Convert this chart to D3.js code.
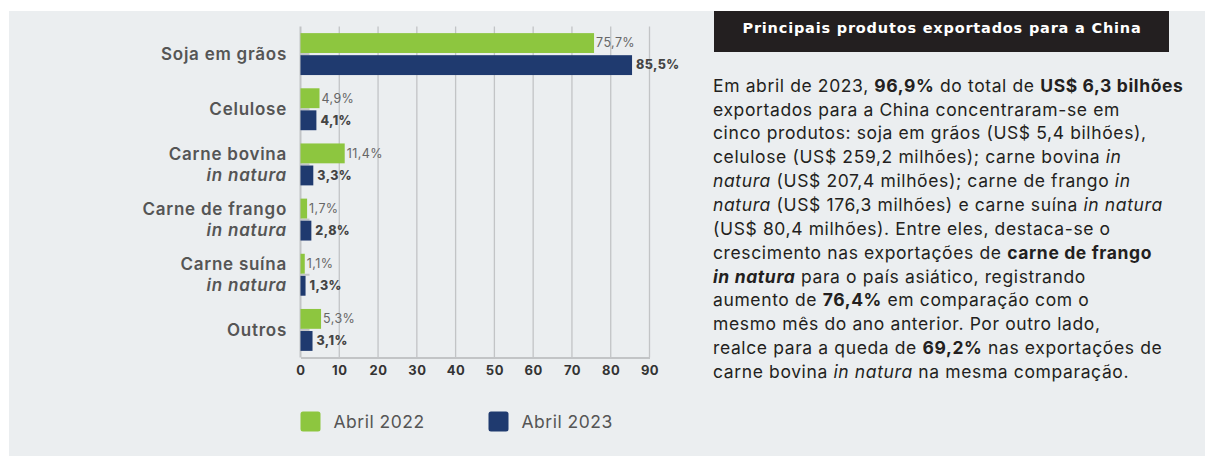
<!DOCTYPE html>
<html>
<head>
<meta charset="utf-8">
<script src="https://cdn.jsdelivr.net/npm/d3@7"></script>
<style>
  body { margin: 0; background: #fff; }
  svg { display: block; font-family: Inter, "Open Sans", sans-serif; }
</style>
</head>
<body>
<div id="grafico"></div>
<script>
// dados
var categorias = ["Soja em grãos", "Celulose", "Carne bovina", "Carne de frango", "Carne suína", "Outros"],
    subtitulos = ["", "", "in natura", "in natura", "in natura", ""],
    abril2022 = [75.7, 4.9, 11.4, 1.7, 1.1, 5.3],
    abril2023 = [85.5, 4.1, 3.3, 2.8, 1.3, 3.1],
    series = ["Abril 2022", "Abril 2023"],
    ticksX = [0, 10, 20, 30, 40, 50, 60, 70, 80, 90];

var titulo = "Principais produtos exportados para a China";

// texto: [texto, estilo] ; b = negrito, i = itálico, bi = ambos
var paragrafo = [
  [["Em abril de 2023, ", ""], ["96,9%", "b"], [" do total de ", ""], ["US$ 6,3 bilhões", "b"]],
  [["exportados para a China concentraram-se em", ""]],
  [["cinco produtos: soja em grãos (US$ 5,4 bilhões),", ""]],
  [["celulose (US$ 259,2 milhões); carne bovina ", ""], ["in", "i"]],
  [["natura", "i"], [" (US$ 207,4 milhões); carne de frango ", ""], ["in", "i"]],
  [["natura", "i"], [" (US$ 176,3 milhões) e carne suína ", ""], ["in natura", "i"]],
  [["(US$ 80,4 milhões). Entre eles, destaca-se o", ""]],
  [["crescimento nas exportações de ", ""], ["carne de frango", "b"]],
  [["in natura", "bi"], [" para o país asiático, registrando", ""]],
  [["aumento de ", ""], ["76,4%", "b"], [" em comparação com o", ""]],
  [["mesmo mês do ano anterior. Por outro lado,", ""]],
  [["realce para a queda de ", ""], ["69,2%", "b"], [" nas exportações de", ""]],
  [["carne bovina ", ""], ["in natura", "i"], [" na mesma comparação.", ""]]
];

var w = 1205, h = 456,
    cores = ["#8dc63f", "#1f3a6f"];

var svg = d3.select("#grafico")
            .append("svg")
            .attr("width", w)
            .attr("height", h);

// fundo cinza
svg.append("rect")
   .attr("x", 9).attr("y", 11)
   .attr("width", w - 9).attr("height", h - 11)
   .attr("fill", "#ebeef0");

// escalas
var x = d3.scaleLinear().domain([0, 90]).range([300.5, 649.5]),
    y = d3.scaleBand().domain(categorias).range([26.5, 357.5]).paddingInner(0.24).paddingOuter(0.12),
    ySub = d3.scaleBand().domain(series).range([0, y.bandwidth()]).paddingInner(0.1);

var g = svg.append("g");

// grade vertical
g.selectAll(".grade")
  .data(ticksX)
  .enter()
  .append("line")
  .attr("x1", function (d) { return x(d); })
  .attr("x2", function (d) { return x(d); })
  .attr("y1", y.range()[0])
  .attr("y2", y.range()[1])
  .attr("stroke", "#c2c4c6")
  .attr("stroke-width", function (d) { return d === 0 ? 2 : 1.3; });

// eixo inferior
var xAxis = d3.axisBottom(x).tickValues(ticksX).tickSize(0).tickPadding(8);
var eixo = g.append("g")
  .attr("transform", "translate(0," + y.range()[1] + ")")
  .call(xAxis);
eixo.select(".domain").attr("stroke", "#c2c4c6").attr("stroke-width", 2);
eixo.selectAll("text")
  .attr("fill", "#333")
  .style("font-family", "Inter, sans-serif")
  .style("font-size", "13px")
  .style("font-weight", "700")
  .style("letter-spacing", "0.5px");

// marquinhas cinza entre as barras
g.selectAll(".marca")
  .data(categorias)
  .enter()
  .append("line")
  .attr("x1", x(0)).attr("x2", x(0) + 9)
  .attr("y1", function (d) { return y(d) + y.bandwidth() / 2; })
  .attr("y2", function (d) { return y(d) + y.bandwidth() / 2; })
  .attr("stroke", "#c2c4c6")
  .attr("stroke-width", 2);

var dados = categorias.map(function (c, i) {
  return {cat: c, vals: [abril2022[i], abril2023[i]]};
});

var grupos = g.selectAll(".grupo")
  .data(dados)
  .enter()
  .append("g")
  .attr("transform", function (d) { return "translate(0," + y(d.cat) + ")"; });

grupos.selectAll("rect")
  .data(function (d) { return d.vals.map(function (v, k) { return {v: v, k: k}; }); })
  .enter()
  .append("rect")
  .attr("x", x(0))
  .attr("y", function (d) { return ySub(series[d.k]); })
  .attr("width", function (d) { return x(d.v) - x(0); })
  .attr("height", ySub.bandwidth())
  .attr("fill", function (d) { return cores[d.k]; });

grupos.selectAll(".rotulo")
  .data(function (d) { return d.vals.map(function (v, k) { return {v: v, k: k}; }); })
  .enter()
  .append("text")
  .attr("x", function (d) { return x(d.v) + (d.k === 0 ? 2 : 4); })
  .attr("y", function (d) { return ySub(series[d.k]) + ySub.bandwidth() / 2; })
  .attr("dy", "0.35em")
  .attr("fill", function (d) { return d.k === 0 ? "#666" : "#444"; })
  .style("font-size", "12.5px")
  .style("letter-spacing", "0.4px")
  .style("font-weight", function (d) { return d.k === 0 ? "400" : "800"; })
  .text(function (d) { return String(d.v.toFixed(1)).replace(".", ",") + "%"; });

// rótulos das categorias
categorias.forEach(function (c, i) {
  var cy = y(c) + y.bandwidth() / 2;
  var t = g.append("text")
    .attr("x", 287)
    .attr("text-anchor", "end")
    .attr("fill", "#555")
    .style("font-size", "17px")
    .style("letter-spacing", "0.75px")
    .style("font-weight", "600");
  if (subtitulos[i]) {
    t.append("tspan").attr("x", 287).attr("y", cy - 10.5).attr("dy", "0.35em").text(c);
    t.append("tspan").attr("x", 287).attr("y", cy + 10.5).attr("dy", "0.35em")
     .style("font-style", "italic").text(subtitulos[i]);
  } else {
    t.attr("y", cy).attr("dy", "0.35em").text(c);
  }
});

// legenda
var legX = d3.scalePoint().domain(series).range([300.5, 488.5]);
var leg = g.selectAll(".leg")
  .data(series)
  .enter()
  .append("g")
  .attr("transform", function (d) { return "translate(" + legX(d) + ",411.5)"; });
leg.append("rect")
  .attr("width", 20).attr("height", 20).attr("rx", 2.5)
  .attr("fill", function (d, i) { return cores[i]; });
leg.append("text")
  .attr("x", 33).attr("y", 10).attr("dy", "0.36em")
  .attr("fill", "#555")
  .style("font-size", "17.5px")
  .style("letter-spacing", "0.5px")
  .text(function (d) { return d; });

// caixa do título
svg.append("rect")
   .attr("x", 714).attr("y", 11)
   .attr("width", 455).attr("height", 41)
   .attr("fill", "#231f20");
svg.append("text")
   .attr("x", 942).attr("y", 27.5)
   .attr("dy", "0.35em")
   .attr("text-anchor", "middle")
   .attr("fill", "#fff")
   .style("font-family", "'DejaVu Sans', sans-serif")
   .style("font-size", "14.5px")
   .style("font-weight", "700")
   .style("letter-spacing", "0.8px")
   .text(titulo);

// parágrafo
var txt = svg.append("text")
   .attr("fill", "#231f20")
   .style("font-size", "17.5px")
   .style("letter-spacing", "0.62px");
paragrafo.forEach(function (linha, i) {
  var ln = txt.append("tspan").attr("x", 713).attr("y", 91.7 + i * 23.85);
  linha.forEach(function (seg) {
    ln.append("tspan")
      .style("font-weight", seg[1].indexOf("b") >= 0 ? "700" : null)
      .style("font-style", seg[1].indexOf("i") >= 0 ? "italic" : null)
      .text(seg[0]);
  });
});
</script>
</body>
</html>
